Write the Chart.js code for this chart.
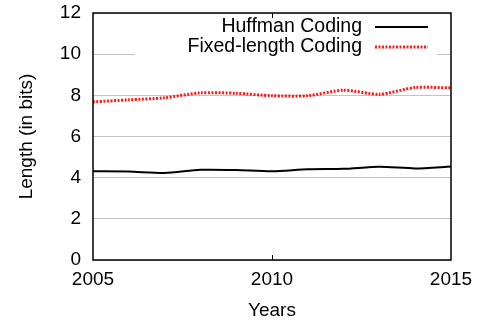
<!DOCTYPE html>
<html>
<head>
<meta charset="utf-8">
<script src="https://cdn.jsdelivr.net/npm/chart.js@4.4.0/dist/chart.umd.min.js"></script>
<style>
  html, body { margin: 0; padding: 0; background: #fff; }
  #wrap { width: 483px; height: 322px; }
</style>
</head>
<body>
<div id="wrap"><canvas id="lenChart" width="483" height="322"></canvas></div>
<script>
const years = [2005, 2006, 2007, 2008, 2009, 2010, 2011, 2012, 2013, 2014, 2015];
const huffman = [4.31, 4.30, 4.23, 4.38, 4.37, 4.31, 4.41, 4.43, 4.53, 4.45, 4.54];
const fixedLength = [7.68, 7.78, 7.88, 8.12, 8.1, 7.98, 7.98, 8.25, 8.05, 8.38, 8.36];
const seriesNames = ["Huffman Coding", "Fixed-length Coding"];
const xTicks = [2005, 2010, 2015];

const FONT = "'Liberation Sans', Arial, Helvetica, sans-serif";

// legend + frame like gnuplot
const framePlugin = {
  id: "frame",
  afterDraw: (chart) => {
    const ctx = chart.ctx;
    const a = chart.chartArea;
    const xs = chart.scales.x;
    ctx.save();
    // legend box
    ctx.fillStyle = "#fff";
    ctx.fillRect(135, a.top + 2, 302, 46);
    ctx.font = "19.5px " + FONT;
    ctx.fillStyle = "#000";
    ctx.textAlign = "right";
    ctx.textBaseline = "middle";
    const rows = [27, 47];
    chart.data.datasets.forEach((ds, i) => {
      ctx.fillText(ds.label, 362, rows[i]);
      ctx.beginPath();
      ctx.strokeStyle = ds.borderColor;
      ctx.lineWidth = ds.borderWidth;
      ctx.setLineDash(ds.borderDash || []);
      ctx.moveTo(375, rows[i]);
      ctx.lineTo(428, rows[i]);
      ctx.stroke();
    });
    ctx.setLineDash([]);
    // inner tick at middle year
    ctx.strokeStyle = "#000";
    ctx.lineWidth = 1;
    const mx = Math.round(xs.getPixelForValue(xTicks[1])) + 0.5;
    ctx.beginPath();
    ctx.moveTo(mx, a.bottom);
    ctx.lineTo(mx, a.bottom - 5);
    ctx.moveTo(mx, a.top);
    ctx.lineTo(mx, a.top + 5);
    ctx.stroke();
    // frame
    ctx.lineWidth = 1.5;
    ctx.strokeRect(a.left, a.top, a.right - a.left, a.bottom - a.top);
    ctx.restore();
  },
};

const ctx = document.getElementById("lenChart").getContext("2d");
const lenChart = new Chart(ctx, {
  type: "line",
  data: {
    labels: years,
    datasets: [
      {
        label: seriesNames[0],
        data: years.map((y, i) => ({ x: y, y: huffman[i] })),
        borderColor: "#000",
        borderWidth: 2,
        pointRadius: 0,
        tension: 0.25,
        fill: false,
      },
      {
        label: seriesNames[1],
        data: years.map((y, i) => ({ x: y, y: fixedLength[i] })),
        borderColor: "#ff1a1a",
        borderWidth: 3,
        borderDash: [2, 1.5],
        pointRadius: 0,
        tension: 0.25,
        fill: false,
      },
    ],
  },
  options: {
    responsive: false,
    animation: false,
    layout: { padding: { left: 0, right: 32, top: 13, bottom: 0 } },
    plugins: {
      legend: { display: false },
      tooltip: { enabled: false },
    },
    scales: {
      x: {
        type: "linear",
        min: 2005,
        max: 2015,
        afterBuildTicks: (scale) => {
          scale.ticks = xTicks.map((v) => ({ value: v }));
        },
        afterFit: (scale) => {
          scale.height = 62;
          scale.paddingLeft = 0;
          scale.paddingRight = 0;
        },
        grid: { display: false },
        border: { display: false },
        ticks: {
          color: "#000",
          padding: 0,
          maxRotation: 0,
          font: { family: FONT, size: 19 },
          callback: (v) => String(v),
        },
        title: {
          display: true,
          text: "Years",
          color: "#000",
          padding: { top: 0, bottom: 0 },
          font: { family: FONT, size: 19 },
        },
      },
      y: {
        min: 0,
        max: 12,
        afterFit: (scale) => {
          scale.width = 93;
          scale.paddingTop = 0;
          scale.paddingBottom = 0;
        },
        grid: {
          color: "#c4c4c4",
          lineWidth: 1,
          drawTicks: false,
        },
        border: { display: false },
        ticks: {
          stepSize: 2,
          color: "#000",
          padding: 12,
          font: { family: FONT, size: 19 },
        },
        title: {
          display: true,
          text: "Length (in bits)",
          color: "#000",
          padding: { top: 15, bottom: 0 },
          font: { family: FONT, size: 19 },
        },
      },
    },
  },
  plugins: [framePlugin],
});
</script>
</body>
</html>
